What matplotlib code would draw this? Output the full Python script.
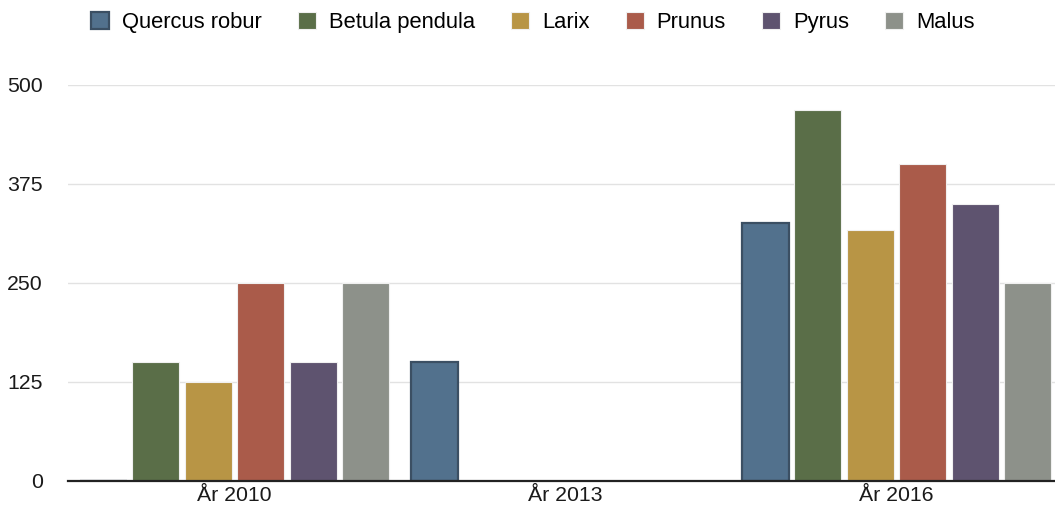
import numpy as np
import matplotlib
matplotlib.use("Agg")
import matplotlib.pyplot as plt

plt.rcParams['font.family'] = ['Liberation Sans', 'DejaVu Sans']

# Data
years = ['År 2010', 'År 2013', 'År 2016']
species = ['Quercus robur', 'Betula pendula', 'Larix', 'Prunus', 'Pyrus', 'Malus']
quercus = [0, 150, 325]
betula = [150, 0, 468]
larix = [125, 0, 317]
prunus = [250, 0, 400]
pyrus = [150, 0, 350]
malus = [250, 0, 250]
series = [quercus, betula, larix, prunus, pyrus, malus]

colors = ['#52718d', '#5a6e48', '#b89545', '#aa5b4a', '#5e536f', '#8d918a']
edges = ['#3b4f63', '#f0f0f0', '#f0f0f0', '#f0f0f0', '#f0f0f0', '#f0f0f0']
edge_w = [1.6, 0.8, 0.8, 0.8, 0.8, 0.8]

fig = plt.figure(figsize=(10.55, 5.11), dpi=100)
ax = fig.add_axes([68 / 1055, 1 - 480.7 / 511, 1 - 68 / 1055, (480.7 - 84.7) / 511])

x = np.arange(len(years))
pitch = 0.1586
width = 0.142
for i, vals in enumerate(series):
    ax.bar(x + (i - 2.5) * pitch, vals, width, color=colors[i],
           edgecolor=edges[i], linewidth=edge_w[i], label=species[i], zorder=2)

ax.set_xlim(-0.503, 2.479)
ax.set_ylim(0, 500)
ax.set_yticks([0, 125, 250, 375, 500])
ax.set_xticks(x)
ax.set_xticklabels(years)
ax.tick_params(axis='both', length=0, labelsize=15.3, colors='#1a1a1a')
ax.tick_params(axis='y', pad=18)
ax.tick_params(axis='x', pad=4)
ax.grid(axis='y', color='#e2e2e2', linewidth=1, zorder=0)
ax.set_axisbelow(True)
for s in ['top', 'right', 'left']:
    ax.spines[s].set_visible(False)
ax.spines['bottom'].set_color('#222222')
ax.spines['bottom'].set_linewidth(1.6)
ax.spines['bottom'].set_zorder(5)

fig.legend(loc='center', bbox_to_anchor=(0.505, 1 - 22.5 / 511), ncol=6, frameon=False,
           fontsize=15.8, handlelength=0.82, handleheight=0.82, handletextpad=0.6,
           columnspacing=1.64)

fig.savefig('out.png', dpi=100)
